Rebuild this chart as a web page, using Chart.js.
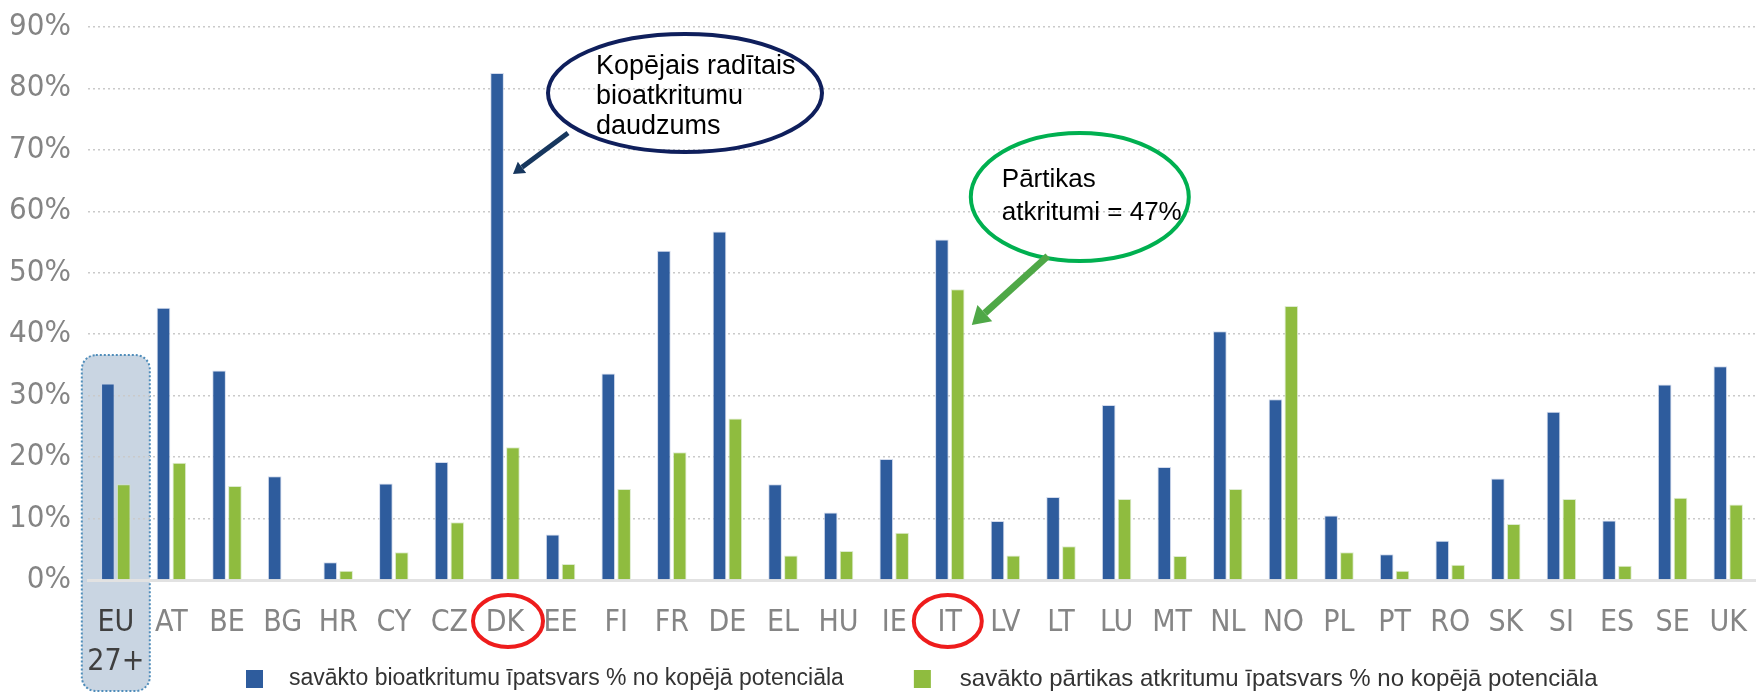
<!DOCTYPE html>
<html>
<head>
<meta charset="utf-8">
<script src="https://cdn.jsdelivr.net/npm/chart.js@4.4.1/dist/chart.umd.min.js"></script>
<style>
  html, body { margin: 0; padding: 0; background: #fff; }
</style>
</head>
<body>
<canvas id="chart" width="1756" height="692"></canvas>
<script>
// data
const categories = [['EU', '27+'], 'AT', 'BE', 'BG', 'HR', 'CY', 'CZ', 'DK', 'EE', 'FI', 'FR', 'DE', 'EL', 'HU', 'IE',
  'IT', 'LV', 'LT', 'LU', 'MT', 'NL', 'NO', 'PL', 'PT', 'RO', 'SK', 'SI', 'ES', 'SE', 'UK'];
const bioShare = [32.0, 44.3, 34.1, 16.9, 2.9, 15.7, 19.2, 82.5, 7.4, 33.6, 53.6, 56.7, 15.6, 11.0, 19.7,
  55.4, 9.6, 13.5, 28.5, 18.4, 40.5, 29.4, 10.5, 4.2, 6.4, 16.5, 27.4, 9.7, 31.8, 34.8];
const foodShare = [15.6, 19.1, 15.3, null, 1.5, 4.5, 9.4, 21.6, 2.6, 14.8, 20.8, 26.3, 4.0, 4.7, 7.7,
  47.3, 4.0, 5.5, 13.2, 3.9, 14.8, 44.6, 4.5, 1.5, 2.5, 9.1, 13.2, 2.3, 13.4, 12.3];
const seriesNames = ['savākto bioatkritumu īpatsvars % no kopējā potenciāla',
  'savākto pārtikas atkritumu īpatsvars % no kopējā potenciāla'];
const seriesColors = ['#2e5c9d', '#8fbc3f'];
const yMax = 90;
const yStep = 10;

const narrowFont = "'Liberation Sans Narrow', 'DejaVu Sans Condensed', sans-serif";
const plainFont = "'Liberation Sans', Arial, sans-serif";

// shaded box behind the EU 27+ group
const euBox = {
  id: 'euBox',
  beforeDraw(chart) {
    const { ctx, scales: { x, y } } = chart;
    const cx = x.getPixelForValue(0);
    const top = y.getPixelForValue(36.6);
    ctx.save();
    ctx.beginPath();
    ctx.roundRect(cx - 34, top, 68, chart.height - top - 1, 14);
    ctx.fillStyle = '#c9d5e2';
    ctx.fill();
    ctx.setLineDash([2, 2]);
    ctx.lineWidth = 2;
    ctx.strokeStyle = '#4f8dba';
    ctx.stroke();
    ctx.restore();
  }
};

function arrow(ctx, x1, y1, x2, y2, width, head, color) {
  const ang = Math.atan2(y2 - y1, x2 - x1);
  const bx = x2 - Math.cos(ang) * head * 0.8;
  const by = y2 - Math.sin(ang) * head * 0.8;
  ctx.save();
  ctx.strokeStyle = color;
  ctx.fillStyle = color;
  ctx.lineWidth = width;
  ctx.beginPath();
  ctx.moveTo(x1, y1);
  ctx.lineTo(bx, by);
  ctx.stroke();
  ctx.beginPath();
  ctx.moveTo(x2, y2);
  ctx.lineTo(bx + Math.cos(ang + Math.PI / 2) * head * 0.5, by + Math.sin(ang + Math.PI / 2) * head * 0.5);
  ctx.lineTo(bx + Math.cos(ang - Math.PI / 2) * head * 0.5, by + Math.sin(ang - Math.PI / 2) * head * 0.5);
  ctx.closePath();
  ctx.fill();
  ctx.restore();
}

function ring(ctx, cx, cy, rx, ry, color, lw) {
  ctx.save();
  ctx.beginPath();
  ctx.ellipse(cx, cy, rx, ry, 0, 0, Math.PI * 2);
  ctx.lineWidth = lw;
  ctx.strokeStyle = color;
  ctx.stroke();
  ctx.restore();
}

// callouts, circled labels and the legend
const extras = {
  id: 'extras',
  afterDraw(chart) {
    const { ctx, scales: { x } } = chart;
    const xd = x.getPixelForValue(categories.indexOf('DK'));
    const xi = x.getPixelForValue(categories.indexOf('IT'));

    ring(ctx, xd + 3, 621, 35, 26, '#ee1c1c', 4);
    ring(ctx, xi - 2, 621, 34, 26, '#ee1c1c', 4);

    // total biowaste callout
    ring(ctx, xd + 180, 93, 137, 59, '#0f1f5c', 4);
    arrow(ctx, xd + 63, 133, xd + 8, 174, 5, 14, '#17375e');
    ctx.save();
    ctx.font = '27px ' + plainFont;
    ctx.fillStyle = '#000';
    ['Kopējais radītais', 'bioatkritumu', 'daudzums'].forEach((t, i) => {
      ctx.fillText(t, xd + 91, 74 + i * 30);
    });
    // food waste callout
    ring(ctx, xi + 130, 197, 109, 64, '#00b050', 4);
    ctx.font = '26px ' + plainFont;
    ctx.fillText('Pārtikas', xi + 52, 187);
    ctx.fillText('atkritumi = 47%', xi + 52, 220);
    ctx.restore();
    arrow(ctx, xi + 98, 256, xi + 22, 325, 7, 22, '#4fa847');

    // legend
    ctx.save();
    ctx.textBaseline = 'middle';
    const legendSizes = [23, 24];
    let lx = 246;
    const ly = 679;
    seriesNames.forEach((name, i) => {
      ctx.font = legendSizes[i] + 'px ' + plainFont;
      ctx.fillStyle = seriesColors[i];
      ctx.fillRect(lx, ly - 9, 17, 18);
      ctx.fillStyle = '#333';
      const gap = i === 0 ? 43 : 46;
      ctx.fillText(name, lx + gap, ly);
      lx += gap + ctx.measureText(name).width + 70;
    });
    ctx.restore();
  }
};

new Chart(document.getElementById('chart'), {
  type: 'bar',
  data: {
    labels: categories,
    datasets: [
      { label: seriesNames[0], data: bioShare, backgroundColor: seriesColors[0],
        borderColor: 'rgba(200,210,232,0.8)', borderWidth: 1 },
      { label: seriesNames[1], data: foodShare, backgroundColor: seriesColors[1],
        borderColor: 'rgba(212,230,196,0.8)', borderWidth: 1 }
    ]
  },
  options: {
    responsive: false,
    animation: false,
    categoryPercentage: 0.57,
    barPercentage: 0.86,
    layout: { padding: { top: 27, right: 0, left: 0, bottom: 0 } },
    plugins: { legend: { display: false }, tooltip: { enabled: false } },
    scales: {
      x: {
        grid: { display: false },
        border: { display: true, color: '#e2e2e2', width: 3 },
        ticks: {
          autoSkip: false,
          maxRotation: 0,
          padding: 16,
          font: { family: narrowFont, size: 30, lineHeight: 1.3 },
          color: c => (c.index === 0 ? '#3f3f3f' : '#858585')
        },
        afterFit: s => { s.height = 112; s.paddingLeft = 0; s.paddingRight = 0; }
      },
      y: {
        min: 0,
        max: yMax,
        ticks: {
          stepSize: yStep,
          padding: 17,
          font: { family: narrowFont, size: 31 },
          color: '#858585',
          callback: v => v + '%'
        },
        grid: {
          drawTicks: false,
          color: c => (c.tick.value === 0 ? 'rgba(0,0,0,0)' : '#cacaca'),
          lineWidth: 1.5
        },
        border: { display: false, dash: [2, 3] },
        afterFit: s => { s.width = 88; s.paddingTop = 0; s.paddingBottom = 0; }
      }
    }
  },
  plugins: [euBox, extras]
});
</script>
</body>
</html>
